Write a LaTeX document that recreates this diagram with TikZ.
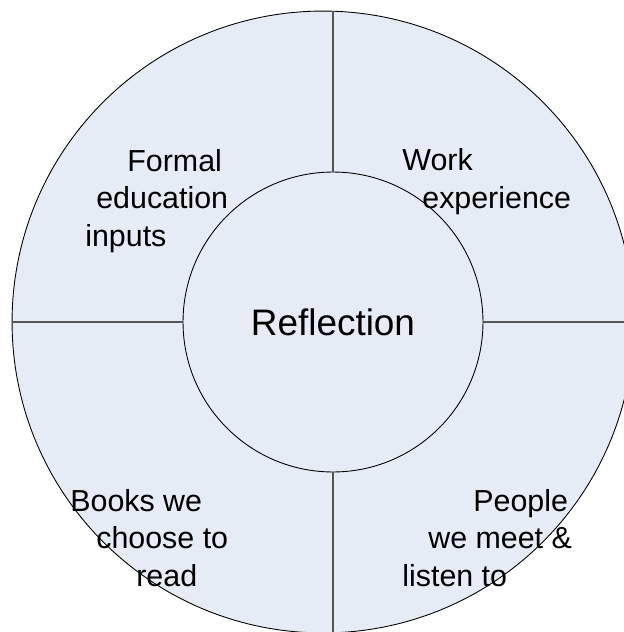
\documentclass[tikz,border=0pt]{standalone}
\usepackage{fontspec}
\setmainfont{Liberation Sans}
\definecolor{wheelfill}{RGB}{230,236,246}
\definecolor{spokegray}{RGB}{85,85,85}
\begin{document}
\begin{tikzpicture}[x=0.02cm,y=-0.02cm,
  ring/.style={circle,draw=black,line width=0.5pt,fill=wheelfill,inner sep=0pt},
  spoke/.style={draw=spokegray,line width=0.9pt},
  lbl/.style={align=left,anchor=west,inner sep=0pt,font=\fontsize{17.3}{21.5}\selectfont}]
 \useasboundingbox (0,0) rectangle (624,632);
 \clip (0,0) rectangle (624,632);
 \node[ring,minimum size=12.44cm] (outer) at (323,322) {};
 \node[ring,minimum size=6cm,font=\fontsize{21}{24}\selectfont] (inner) at (333,322) {Reflection};
 \draw[spoke] (inner.north) -- (inner.north |- outer.north);
 \draw[spoke] (inner.south) -- (inner.south |- outer.south);
 \draw[spoke] (inner.west) -- (outer.west);
 \draw[spoke] (inner.east) -- (outer.east);
 \node[lbl] (formal) at (85,201) {\hspace*{0.84cm}Formal\\\hspace*{0.22cm}education\\inputs};
 \node[lbl] (work) at (402,182) {Work\\\hspace*{0.4cm}experience};
 \node[lbl] (books) at (70,538) {Books we\\\hspace*{0.52cm}choose to\\\hspace*{1.32cm}read};
 \node[lbl] (people) at (402,538) {\hspace*{1.42cm}People\\\hspace*{0.52cm}we meet \&\\listen to};
\end{tikzpicture}
\end{document}
